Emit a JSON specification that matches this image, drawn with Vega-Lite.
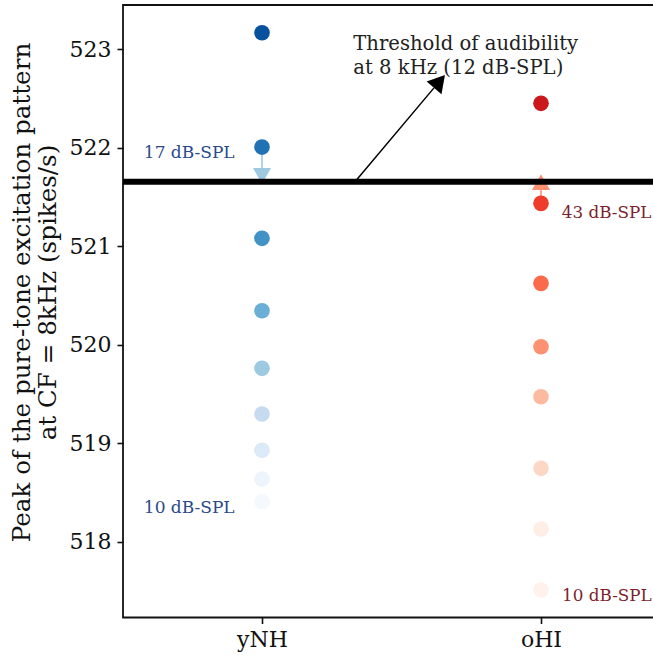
{
  "$schema": "https://vega.github.io/schema/vega-lite/v6.json",
  "width": 531,
  "height": 612.5,
  "autosize": {"type": "none"},
  "padding": {"left": 123, "top": 5, "right": 0, "bottom": 41.5},
  "background": "white",
  "config": {
    "view": {"stroke": "#111111", "strokeWidth": 1.8},
    "font": "DejaVu Serif",
    "axis": {
      "domain": false, "grid": false, "tickColor": "#111111", "tickWidth": 1.6, "tickSize": 6,
      "labelFont": "DejaVu Serif", "labelFontSize": 22, "labelColor": "#111111",
      "titleFont": "DejaVu Serif", "titleFontWeight": "normal", "titleColor": "#111111"
    }
  },
  "datasets": {
    "points": [
      {"group": "yNH", "pos": 0, "shade": "yNH 1", "value": 518.406},
      {"group": "yNH", "pos": 0, "shade": "yNH 2", "value": 518.637},
      {"group": "yNH", "pos": 0, "shade": "yNH 3", "value": 518.928},
      {"group": "yNH", "pos": 0, "shade": "yNH 4", "value": 519.296},
      {"group": "yNH", "pos": 0, "shade": "yNH 5", "value": 519.760},
      {"group": "yNH", "pos": 0, "shade": "yNH 6", "value": 520.344},
      {"group": "yNH", "pos": 0, "shade": "yNH 7", "value": 521.079},
      {"group": "yNH", "pos": 0, "shade": "yNH 8", "value": 522.005},
      {"group": "yNH", "pos": 0, "shade": "yNH 9", "value": 523.165},
      {"group": "oHI", "pos": 1, "shade": "oHI 1", "value": 517.510},
      {"group": "oHI", "pos": 1, "shade": "oHI 2", "value": 518.129},
      {"group": "oHI", "pos": 1, "shade": "oHI 3", "value": 518.745},
      {"group": "oHI", "pos": 1, "shade": "oHI 4", "value": 519.471},
      {"group": "oHI", "pos": 1, "shade": "oHI 5", "value": 519.979},
      {"group": "oHI", "pos": 1, "shade": "oHI 6", "value": 520.622},
      {"group": "oHI", "pos": 1, "shade": "oHI 7", "value": 521.434},
      {"group": "oHI", "pos": 1, "shade": "oHI 8", "value": 522.449}
    ],
    "markers": [
      {"group": "yNH", "pos": 0, "shade": "yNH 5", "from": 522.005, "to": 521.714, "dir": "down"},
      {"group": "oHI", "pos": 1, "shade": "oHI 5", "from": 521.434, "to": 521.650, "dir": "up"}
    ],
    "threshold": [{"level": 521.653}],
    "arrow": [{"x": 0.3333, "y": 521.653, "x2": 0.6165, "y2": 522.606, "hx": 0.6362, "hy": 522.671}],
    "bluelabels": [
      {"x": -0.098, "y": 521.899, "label": "17 dB-SPL"},
      {"x": -0.098, "y": 518.294, "label": "10 dB-SPL"}
    ],
    "redlabels": [
      {"x": 1.0745, "y": 521.282, "label": "43 dB-SPL"},
      {"x": 1.0755, "y": 517.401, "label": "10 dB-SPL"}
    ],
    "note": [
      {"x": 0.3272, "y": 522.99, "label": "Threshold of audibility"},
      {"x": 0.3272, "y": 522.746, "label": "at 8 kHz (12 dB-SPL)"}
    ]
  },
  "layer": [
    {
      "data": {"name": "markers"},
      "mark": {"type": "rule", "strokeWidth": 1.6},
      "encoding": {
        "x": {"field": "pos", "type": "quantitative",
              "scale": {"domain": [-0.4982, 1.405], "nice": false, "zero": false},
              "axis": {"values": [0, 1], "labelExpr": "datum.value == 0 ? 'yNH' : 'oHI'", "title": null, "labelPadding": 6, "labelFontSize": 22}},
        "y": {"field": "from", "type": "quantitative",
              "scale": {"domain": [517.231, 523.447], "nice": false, "zero": false},
              "axis": {"values": [518, 519, 520, 521, 522, 523], "format": "d", "labelPadding": 6,
                       "title": ["Peak of the pure-tone excitation pattern", "at CF = 8kHz (spikes/s)"],
                       "titleFontSize": 24.6, "titleLineHeight": 26, "titleBaseline": "alphabetic",
                       "titleAngle": -90, "titleX": -94, "titleY": 287}},
        "y2": {"field": "to"},
        "color": {"field": "shade", "type": "nominal", "legend": null,
                  "scale": {
                    "domain": ["yNH 1", "yNH 2", "yNH 3", "yNH 4", "yNH 5", "yNH 6", "yNH 7", "yNH 8", "yNH 9",
                               "oHI 1", "oHI 2", "oHI 3", "oHI 4", "oHI 5", "oHI 6", "oHI 7", "oHI 8"],
                    "range": ["#f4f9fe", "#edf4fc", "#dce9f6", "#c6dbef", "#9ecae1", "#6baed6", "#4292c6", "#2171b5", "#08519c",
                              "#fff2ec", "#feeee6", "#fdd7c5", "#fcbaa0", "#fc9272", "#fb6a4a", "#ef3b2c", "#cb181d"]}}
      }
    },
    {
      "data": {"name": "markers"},
      "mark": {"type": "point", "filled": true, "opacity": 1, "size": 330},
      "encoding": {
        "x": {"field": "pos", "type": "quantitative"},
        "y": {"field": "to", "type": "quantitative"},
        "color": {"field": "shade", "type": "nominal", "legend": null},
        "shape": {"field": "dir", "type": "nominal", "legend": null,
                  "scale": {"domain": ["down", "up"], "range": ["triangle-down", "triangle-up"]}}
      }
    },
    {
      "data": {"name": "points"},
      "mark": {"type": "circle", "opacity": 1, "size": 245},
      "encoding": {
        "x": {"field": "pos", "type": "quantitative"},
        "y": {"field": "value", "type": "quantitative"},
        "color": {"field": "shade", "type": "nominal", "legend": null}
      }
    },
    {
      "data": {"name": "threshold"},
      "mark": {"type": "rule", "color": "black", "strokeWidth": 6},
      "encoding": {"y": {"field": "level", "type": "quantitative"}}
    },
    {
      "data": {"name": "arrow"},
      "mark": {"type": "rule", "color": "black", "strokeWidth": 1.5},
      "encoding": {
        "x": {"field": "x", "type": "quantitative"},
        "y": {"field": "y", "type": "quantitative"},
        "x2": {"field": "x2"},
        "y2": {"field": "y2"}
      }
    },
    {
      "data": {"name": "arrow"},
      "mark": {"type": "point", "shape": "triangle-up", "filled": true, "opacity": 1, "color": "black", "size": 380, "angle": 40.3},
      "encoding": {
        "x": {"field": "hx", "type": "quantitative"},
        "y": {"field": "hy", "type": "quantitative"}
      }
    },
    {
      "data": {"name": "bluelabels"},
      "mark": {"type": "text", "align": "right", "baseline": "alphabetic", "font": "DejaVu Serif", "fontSize": 17, "color": "#2a4a8a"},
      "encoding": {
        "x": {"field": "x", "type": "quantitative"},
        "y": {"field": "y", "type": "quantitative"},
        "text": {"field": "label"}
      }
    },
    {
      "data": {"name": "redlabels"},
      "mark": {"type": "text", "align": "left", "baseline": "alphabetic", "font": "DejaVu Serif", "fontSize": 16.8, "color": "#7d1f2e"},
      "encoding": {
        "x": {"field": "x", "type": "quantitative"},
        "y": {"field": "y", "type": "quantitative"},
        "text": {"field": "label"}
      }
    },
    {
      "data": {"name": "note"},
      "mark": {"type": "text", "align": "left", "baseline": "alphabetic", "font": "DejaVu Serif", "fontSize": 19.6, "color": "#222222"},
      "encoding": {
        "x": {"field": "x", "type": "quantitative"},
        "y": {"field": "y", "type": "quantitative"},
        "text": {"field": "label"}
      }
    }
  ]
}
